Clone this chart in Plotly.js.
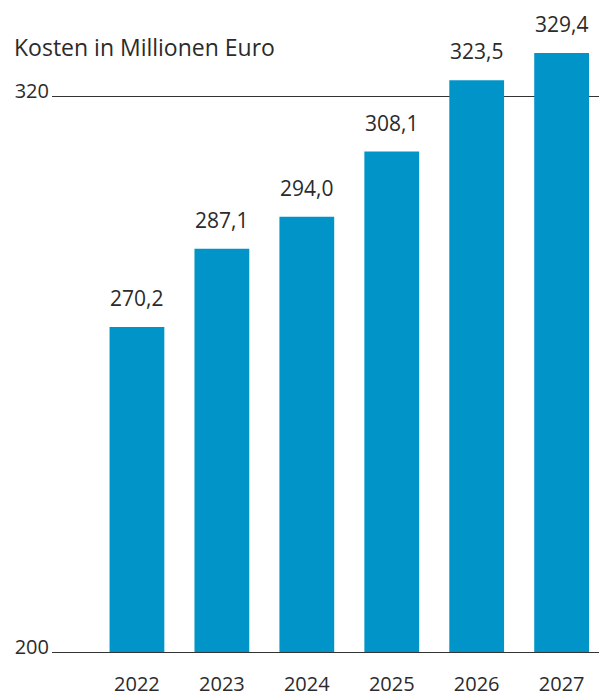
<!DOCTYPE html>
<html><head><meta charset="utf-8">
<script src="https://cdn.plot.ly/plotly-3.0.1.min.js"></script>
<style>html,body{margin:0;padding:0;background:#fff}</style>
</head><body>
<div id="chart" style="width:599px;height:700px"></div>
<script>
const years = [2022, 2023, 2024, 2025, 2026, 2027];
const costs = [270.2, 287.1, 294.0, 308.1, 323.5, 329.4];
const yTicks = [200, 320];
const titleText = 'Kosten in Millionen Euro';

const fontFam = '"Open Sans", "DejaVu Sans", sans-serif';
const textColor = '#2b2b2b';

const trace = {
  type: 'bar',
  x: years,
  y: costs.map(v => v - 200),
  base: 200,
  width: 0.645,
  marker: {color: '#0094c8'},
  hoverinfo: 'skip'
};

const annotations = years.map((yr, i) => ({
  x: yr, y: costs[i], xref: 'x', yref: 'y',
  text: costs[i].toFixed(1).replace('.', ','),
  showarrow: false, yanchor: 'middle', yshift: 29,
  font: {family: fontFam, size: 21, color: textColor}
}));

const layout = {
  width: 599, height: 700,
  margin: {l: 52, r: 0, t: 27, b: 48},
  paper_bgcolor: '#fff', plot_bgcolor: '#fff',
  showlegend: false,
  title: {
    text: titleText, x: 14/599, xref: 'container', xanchor: 'left',
    y: 1 - 48/700, yref: 'container', yanchor: 'middle',
    font: {family: fontFam, size: 23, color: textColor}
  },
  xaxis: {
    type: 'linear', range: [2021.0, 2027.44],
    tickvals: years, ticktext: years.map(String),
    showgrid: false, zeroline: false,
    showline: true, linecolor: '#333', linewidth: 1, ticks: '',
    ticklabelstandoff: 14,
    tickfont: {family: fontFam, size: 20, color: textColor}
  },
  yaxis: {
    range: [200, 335], tickvals: yTicks, ticktext: yTicks.map(String),
    showgrid: true, gridcolor: '#333', gridwidth: 1,
    zeroline: false, showline: false, ticks: '',
    ticklabelstandoff: 2, ticklabelshift: -5,
    tickfont: {family: fontFam, size: 20, color: textColor}
  },
  annotations: annotations
};

Plotly.newPlot('chart', [trace], layout, {displayModeBar: false, staticPlot: true});
</script>
</body></html>
